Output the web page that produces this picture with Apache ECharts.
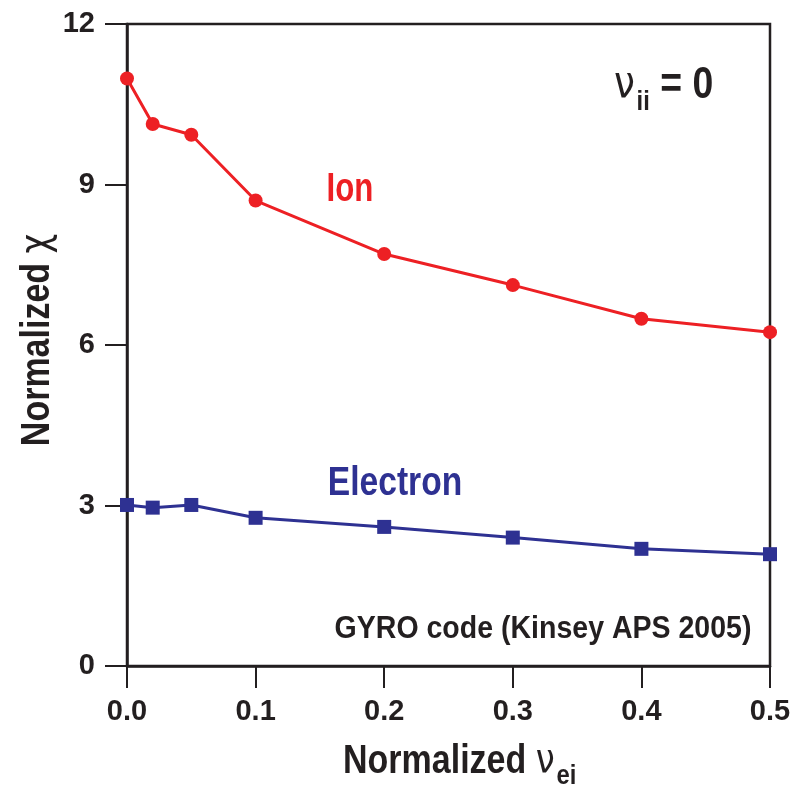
<!DOCTYPE html>
<html>
<head>
<meta charset="utf-8">
<script src="https://cdn.jsdelivr.net/npm/echarts@6/dist/echarts.min.js"></script>
<style>
  html, body { margin: 0; padding: 0; background: #fff; }
  #chart { width: 809px; height: 791px; }
</style>
</head>
<body>
<div id="chart"></div>
<script>
/* ===== GYRO collisionality scan ===== */

const nuEi = [0, 0.02, 0.05, 0.1, 0.2, 0.3, 0.4, 0.5];
const ionChi = [10.98, 10.13, 9.93, 8.70, 7.70, 7.12, 6.49, 6.24];
const electronChi = [3.01, 2.96, 3.01, 2.77, 2.60, 2.40, 2.19, 2.09];
const yTicks = [0, 3, 6, 9, 12];

const theme = {
  ink: '#231f20',
  red: '#ed2024',
  blue: '#2e3192',
  font: "'Liberation Sans', Arial, sans-serif",
  greek: "'DejaVu Sans', sans-serif",
};

const pairs = ys => nuEi.map((x, i) => [x, ys[i]]);

// condensed look: bold sans squeezed sideways
function label(x, y, text, color, size, squeeze) {
  return {
    type: 'text', x, y, scaleX: squeeze, scaleY: 1,
    style: {
      text, fill: color, font: `bold ${size}px ${theme.font}`,
      align: 'center', verticalAlign: 'middle',
    },
  };
}

const chart = echarts.init(document.getElementById('chart'));

chart.setOption({
  backgroundColor: '#ffffff',
  animation: false,
  grid: { left: 127, right: 39, top: 24, bottom: 125, show: true, borderColor: theme.ink, borderWidth: 2.5 },
  xAxis: {
    type: 'value',
    min: 0,
    max: 0.5,
    interval: 0.1,
    axisLine: { lineStyle: { color: theme.ink, width: 2.5 } },
    axisTick: { inside: false, length: 22, lineStyle: { color: theme.ink, width: 2 } },
    axisLabel: {
      color: theme.ink, fontSize: 29, fontWeight: 'bold', fontFamily: theme.font, margin: 31,
      formatter: v => v.toFixed(1),
    },
    splitLine: { show: false },
  },
  yAxis: {
    type: 'value',
    min: yTicks[0],
    max: yTicks[yTicks.length - 1],
    interval: 3,
    axisLine: { show: true, lineStyle: { color: theme.ink, width: 2.5 } },
    axisTick: { inside: false, length: 22, lineStyle: { color: theme.ink, width: 2 } },
    axisLabel: { color: theme.ink, fontSize: 29, fontWeight: 'bold', fontFamily: theme.font, margin: 32 },
    splitLine: { show: false },
  },
  series: [
    {
      name: 'Ion',
      type: 'line',
      data: pairs(ionChi),
      symbol: 'circle',
      symbolSize: 14,
      itemStyle: { color: theme.red },
      lineStyle: { color: theme.red, width: 3 },
    },
    {
      name: 'Electron',
      type: 'line',
      data: pairs(electronChi),
      symbol: 'rect',
      symbolSize: 14,
      itemStyle: { color: theme.blue },
      lineStyle: { color: theme.blue, width: 3 },
    },
  ],
  graphic: [
    label(350, 190, 'Ion', theme.red, 40, 0.78),
    label(395, 484, 'Electron', theme.blue, 40, 0.84),
    label(543, 629, 'GYRO code (Kinsey APS 2005)', theme.ink, 31, 0.92),
    {
      type: 'text', x: 614, y: 64, scaleX: 0.85,
      style: {
        text: '{n|ν}{s|ii}{b| = 0}',
        fill: theme.ink,
        rich: {
          n: { fontSize: 44, fontFamily: theme.greek, fill: theme.ink, verticalAlign: 'bottom', padding: [0, 2, 8, 0] },
          s: { fontSize: 28, fontWeight: 'bold', fontFamily: theme.font, fill: theme.ink, verticalAlign: 'bottom' },
          b: { fontSize: 44, fontWeight: 'bold', fontFamily: theme.font, fill: theme.ink, verticalAlign: 'bottom', padding: [0, 0, 8, 0] },
        },
      },
    },
    {
      type: 'text', x: 343, y: 742, scaleX: 0.85,
      style: {
        text: '{a|Normalized }{n|ν}{s|ei}',
        fill: theme.ink,
        rich: {
          a: { fontSize: 40, fontWeight: 'bold', fontFamily: theme.font, fill: theme.ink, verticalAlign: 'bottom', padding: [0, 0, 8, 0] },
          n: { fontSize: 40, fontFamily: theme.greek, fill: theme.ink, verticalAlign: 'bottom', padding: [0, 2, 8, 0] },
          s: { fontSize: 28, fontWeight: 'bold', fontFamily: theme.font, fill: theme.ink, verticalAlign: 'bottom' },
        },
      },
    },
    {
      type: 'text', x: 38, y: 340, rotation: Math.PI / 2, scaleX: 0.85,
      style: {
        text: '{a|Normalized }{c|χ}',
        fill: theme.ink,
        align: 'center',
        verticalAlign: 'middle',
        rich: {
          a: { fontSize: 40, fontWeight: 'bold', fontFamily: theme.font, fill: theme.ink },
          c: { fontSize: 40, fontFamily: theme.greek, fill: theme.ink },
        },
      },
    },
  ],
});

window.addEventListener('resize', () => chart.resize());
</script>
</body>
</html>
